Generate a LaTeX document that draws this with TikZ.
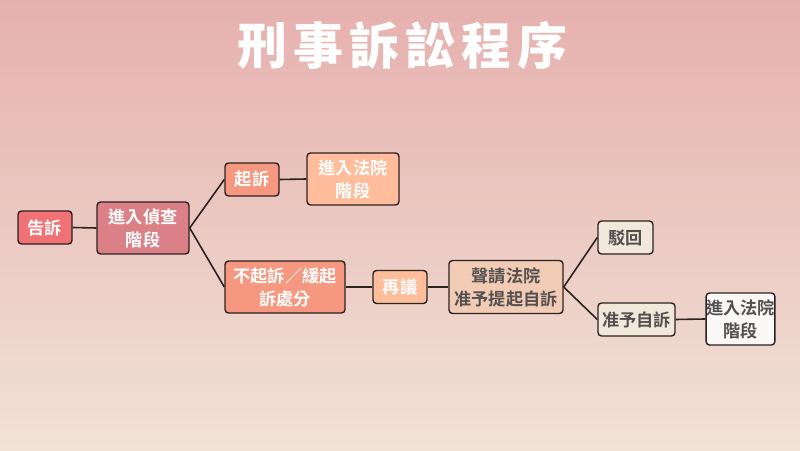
\documentclass[tikz,border=0pt]{standalone}
\usepackage{fontspec}
\setmainfont{Noto Sans CJK TC}[BoldFont={* Bold}]
\newfontfamily\titlefont{Noto Sans CJK TC Black}[LetterSpace=12]
\definecolor{bgtop}{HTML}{E6B0AE}
\definecolor{bgbot}{HTML}{F1E2D6}
\definecolor{edge}{HTML}{2B2222}
\definecolor{cA}{HTML}{F07275}
\definecolor{cB}{HTML}{DB8086}
\definecolor{cC}{HTML}{F6977F}
\definecolor{cD}{HTML}{FFBD9B}
\definecolor{cE}{HTML}{F2CBB4}
\definecolor{cF}{HTML}{F1E7DA}
\definecolor{cG}{HTML}{FBF9F7}
\definecolor{dtext}{HTML}{555050}
\begin{document}
\begin{tikzpicture}[x=1pt,y=1pt,
  box/.style={draw=edge,line width=1.4pt,rounded corners=3.5pt,inner sep=0pt,align=center,
    font=\fontsize{17.2}{23}\selectfont\bfseries},
  wt/.style={box,text=white},
  dk/.style={box,text=dtext},
  link/.style={draw=edge,line width=1.6pt}]
\fill[top color=bgtop,bottom color=bgbot] (0,0) rectangle (800,450);
\useasboundingbox (0,0) rectangle (800,450);
\node[text=white,font=\titlefont\fontsize{50}{56}\selectfont] (title) at (402,405) {刑事訴訟程序};
\node[wt,fill=cA,minimum width=54pt,minimum height=33pt] (gs) at (45,222.5) {告訴};
\node[wt,fill=cB,minimum width=92pt,minimum height=52pt] (zc) at (143,222) {進入偵查\\階段};
\node[wt,fill=cC,minimum width=54pt,minimum height=33pt] (qs) at (252,270.5) {起訴};
\node[wt,fill=cD,minimum width=92pt,minimum height=52pt] (fy1) at (353,271) {進入法院\\階段};
\node[wt,fill=cC,minimum width=120pt,minimum height=52pt] (bq) at (285,163) {不起訴／緩起\\訴處分};
\node[wt,fill=cD,minimum width=54pt,minimum height=33pt] (zy) at (400,163) {再議};
\node[dk,fill=cE,minimum width=114pt,minimum height=53pt] (sq) at (506,163) {聲請法院\\准予提起自訴};
\node[dk,fill=cF,minimum width=55pt,minimum height=33pt] (bh) at (625.5,212.5) {駁回};
\node[dk,fill=cF,minimum width=77pt,minimum height=33pt] (zz) at (636.5,130.5) {准予自訴};
\node[dk,fill=cG,minimum width=67pt,minimum height=52pt] (fy2) at (740.5,131) {進入法院\\階段};
\draw[link] (gs.east) -- (zc.west);
\draw[link] (zc.east) -- (qs.west);
\draw[link] (zc.east) -- (bq.west);
\draw[link] (qs.east) -- (fy1.west);
\draw[link] (bq.east) -- (zy.west);
\draw[link] (zy.east) -- (sq.west);
\draw[link] (sq.east) -- (bh.west);
\draw[link] (sq.east) -- (zz.west);
\draw[link] (zz.east) -- (fy2.west);
\end{tikzpicture}
\end{document}
